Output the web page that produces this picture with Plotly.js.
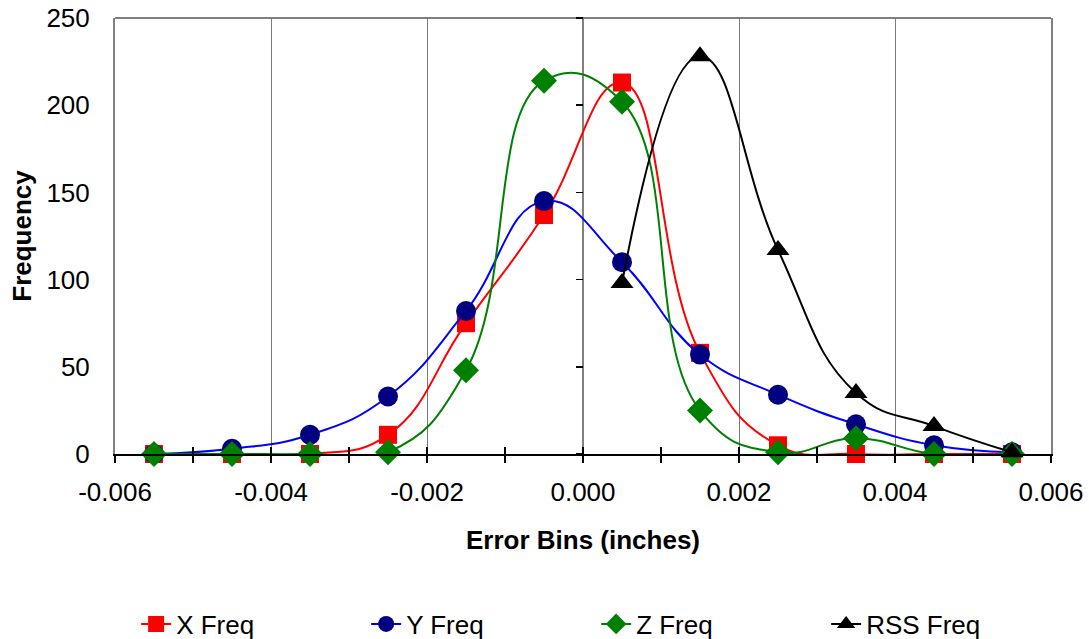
<!DOCTYPE html>
<html>
<head>
<meta charset="utf-8">
<script src="https://cdn.plot.ly/plotly-3.0.1.min.js"></script>
<style>html,body{margin:0;padding:0;background:#fff;}#chart{width:1089px;height:639px;}</style>
</head>
<body>
<div id="chart"></div>
<script>
const bins = [-0.0055, -0.0045, -0.0035, -0.0025, -0.0015, -0.0005, 0.0005, 0.0015, 0.0025, 0.0035, 0.0045, 0.0055];
const xFreq = [0, 0, 0, 11, 75, 137, 213, 58, 5, 0, 0, 0];
const yFreq = [0, 3, 11, 33, 82, 145, 110, 57, 34, 17, 5, 1];
const zFreq = [0, 0, 0, 1, 48, 214, 202, 25, 1, 9, 0, 0];
const rssBins = [0.0005, 0.0015, 0.0025, 0.0035, 0.0045, 0.0055];
const rssFreq = [98, 228, 117, 35, 16, 1];
const seriesNames = ['X Freq', 'Y Freq', 'Z Freq', 'RSS Freq'];
const xTickVals = [-0.006, -0.004, -0.002, 0, 0.002, 0.004, 0.006];
const xTickText = ['-0.006', '-0.004', '-0.002', '0.000', '0.002', '0.004', '0.006'];

const FONT = 'Arial, "Liberation Sans", sans-serif';
const FS = 26;

function tr(x, y, name, lineColor, markerColor, symbol, size) {
  return {
    type: 'scatter', mode: 'lines+markers', x: x, y: y, name: name,
    line: {color: lineColor, width: 2, shape: 'spline', smoothing: 1.3},
    marker: {color: markerColor, symbol: symbol, size: size, line: {width: 0}},
    cliponaxis: false
  };
}

const data = [
  tr(bins, xFreq, seriesNames[0], '#FF0000', '#FF0000', 'square', 18),
  tr(bins, yFreq, seriesNames[1], '#0000FF', '#000080', 'circle', 20),
  tr(bins, zFreq, seriesNames[2], '#008000', '#008000', 'diamond', 20),
  tr(rssBins, rssFreq, seriesNames[3], '#000000', '#000000', 'triangle-up', 20),
  {type: 'scatter', x: [0], y: [0], xaxis: 'x', yaxis: 'y2', mode: 'markers', marker: {opacity: 0}, showlegend: false, hoverinfo: 'skip'},
  {type: 'scatter', x: [0], y: [0], xaxis: 'x2', yaxis: 'y', mode: 'markers', marker: {opacity: 0}, showlegend: false, hoverinfo: 'skip'}
];

const layout = {
  width: 1089, height: 639,
  margin: {l: 115, r: 38, t: 18, b: 185},
  paper_bgcolor: '#fff', plot_bgcolor: '#fff',
  font: {family: FONT, size: FS, color: '#000'},
  showlegend: true,
  legend: {
    orientation: 'h', xref: 'container', yref: 'container',
    x: 0.125, y: 0.0235, xanchor: 'left', yanchor: 'middle',
    font: {family: FONT, size: FS, color: '#000'},
    entrywidth: 185, itemwidth: 30, traceorder: 'normal'
  },
  xaxis: {
    range: [-0.006, 0.006],
    tickvals: xTickVals, ticktext: xTickText,
    showgrid: true, gridcolor: '#7a7a7a', gridwidth: 1,
    zeroline: true, zerolinecolor: '#808080', zerolinewidth: 2,
    showline: true, linecolor: '#000', linewidth: 1.5,
    ticks: 'outside', ticklen: 7, tickcolor: '#000', tickwidth: 1.5,
    minor: {dtick: 0.001, tick0: 0, ticks: 'outside', ticklen: 7, tickcolor: '#000', tickwidth: 1.5, showgrid: false},
    ticklabelstandoff: 7,
    tickfont: {family: FONT, size: FS, color: '#000'},
    title: {text: '<b>Error Bins (inches)</b>', font: {family: FONT, size: FS, color: '#000'}, standoff: 25},
    automargin: false,
    fixedrange: true
  },
  xaxis2: {
    overlaying: 'x', matches: 'x', range: [-0.006, 0.006], anchor: 'y', side: 'bottom',
    showgrid: false, zeroline: false, showline: false, showticklabels: false,
    tickvals: xTickVals,
    ticks: 'inside', ticklen: 7, tickcolor: '#000', tickwidth: 1.5,
    minor: {dtick: 0.001, tick0: 0, ticks: 'inside', ticklen: 7, tickcolor: '#000', tickwidth: 1.5, showgrid: false}
  },
  yaxis: {
    range: [0, 250], dtick: 50, tick0: 0,
    showgrid: false, zeroline: false,
    showline: true, linecolor: '#808080', linewidth: 2, mirror: true,
    ticks: '', ticklabelstandoff: 18,
    tickfont: {family: FONT, size: FS, color: '#000'},
    title: {text: '<b>Frequency</b>', font: {family: FONT, size: FS, color: '#000'}, standoff: 7},
    automargin: false,
    fixedrange: true
  },
  yaxis2: {
    overlaying: 'y', range: [0, 250], dtick: 50, tick0: 0, anchor: 'free', position: 0.5, side: 'left',
    showgrid: false, zeroline: false, showline: false, showticklabels: false,
    ticks: 'outside', ticklen: 7, tickcolor: '#000', tickwidth: 1.5
  },
  shapes: [
    {type: 'line', xref: 'paper', yref: 'paper', x0: 0, x1: 1, y0: 1, y1: 1, line: {color: '#808080', width: 2}, layer: 'below'}
  ]
};

Plotly.newPlot('chart', data, layout, {displayModeBar: false, staticPlot: true});
</script>
</body>
</html>
